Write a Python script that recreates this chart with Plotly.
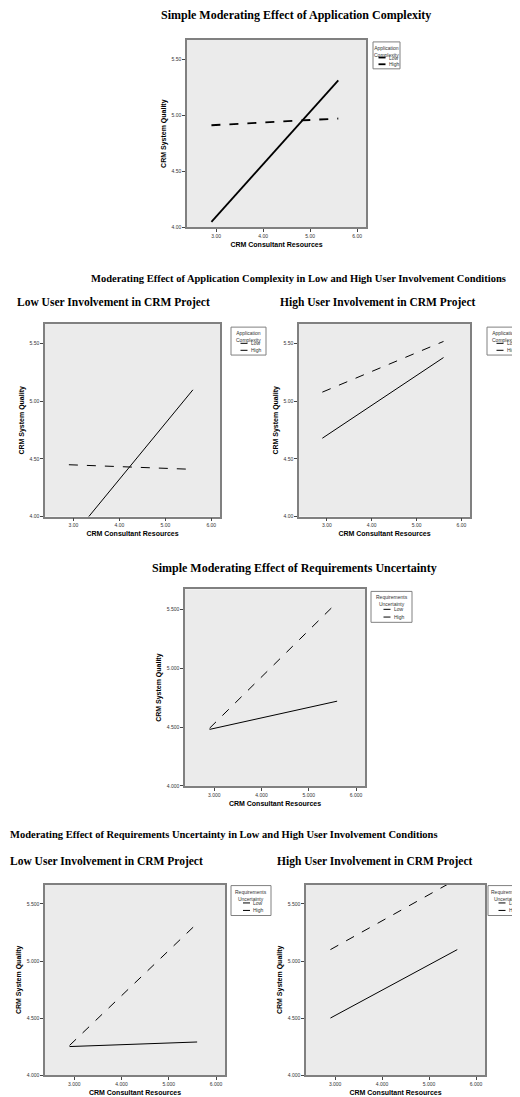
import plotly.graph_objects as go

# x endpoints (CRM Consultant Resources) shared by all panels
x_ends = [2.9, 5.6]

# Application complexity panels: Low / High
app_all_low = [4.91, 4.97]
app_all_high = [4.05, 5.31]
app_lowui_low = [4.45, 4.41]
app_lowui_high = [3.79, 5.10]
app_highui_low = [5.08, 5.52]
app_highui_high = [4.68, 5.38]

# Requirements uncertainty panels: Low / High
req_all_low = [4.49, 5.56]
req_all_high = [4.48, 4.72]
req_lowui_low = [4.26, 5.33]
req_lowui_high = [4.25, 4.29]
req_highui_low = [5.10, 5.72]
req_highui_high = [4.50, 5.10]

x_ticks = [3, 4, 5, 6]
y_ticks = [4.0, 4.5, 5.0, 5.5]

W, H = 520, 1097

fig = go.Figure()

# panel boxes in pixels: (x0, x1, y0, y1), legend box, series, width, tick format, legend title
panels = [
    ((179, 358, 32, 220), (365, 392, 34, 61), app_all_low, app_all_high, 1.8, ".2f", ["Application", "Complexity"]),
    ((37, 212, 317, 510), (223, 258, 320, 348), app_lowui_low, app_lowui_high, 1.0, ".2f", ["Application", "Complexity"]),
    ((291, 462, 317, 510), (479, 514, 320, 348), app_highui_low, app_highui_high, 1.0, ".2f", ["Application", "Complexity"]),
    ((177, 357, 583, 780), (363, 404, 585, 616), req_all_low, req_all_high, 1.0, ".3f", ["Requirements", "Uncertainty"]),
    ((37, 217, 879, 1070), (223, 263, 880, 910), req_lowui_low, req_lowui_high, 1.0, ".3f", ["Requirements", "Uncertainty"]),
    ((298, 477, 879, 1070), (480, 517, 880, 910), req_highui_low, req_highui_high, 1.0, ".3f", ["Requirements", "Uncertainty"]),
]

def px_x(v):
    return v / W

def px_y(v):
    return 1 - v / H

for i, (box, lbox, low, high, lw, fmt, ltitle) in enumerate(panels, start=1):
    sfx = "" if i == 1 else str(i)
    fig.add_trace(go.Scatter(x=x_ends, y=low, mode="lines", name="Low", showlegend=False,
                             line=dict(color="black", width=lw, dash="dash"),
                             xaxis="x" + sfx, yaxis="y" + sfx))
    fig.add_trace(go.Scatter(x=x_ends, y=high, mode="lines", name="High", showlegend=False,
                             line=dict(color="black", width=lw),
                             xaxis="x" + sfx, yaxis="y" + sfx))
    x0, x1, y0, y1 = box
    axis_common = dict(showline=True, linecolor="#808080", linewidth=1.5, mirror=True,
                       ticks="outside", ticklen=3, tickcolor="#444", showgrid=False,
                       zeroline=False, tickfont=dict(size=5, family="Arial", color="#333"))
    fig.update_layout(**{
        "xaxis" + sfx: dict(domain=[x0 / W, x1 / W], range=[2.38, 6.19], tickvals=x_ticks,
                            tickformat=fmt, anchor="y" + sfx,
                            title=dict(text="<b>CRM Consultant Resources</b>", standoff=4,
                                       font=dict(size=7, family="Arial", color="black")),
                            **axis_common),
        "yaxis" + sfx: dict(domain=[1 - y1 / H, 1 - y0 / H], range=[4.0, 5.67], tickvals=y_ticks,
                            tickformat=fmt, anchor="x" + sfx,
                            title=dict(text="<b>CRM System Quality</b>", standoff=4,
                                       font=dict(size=7, family="Arial", color="black")),
                            **axis_common),
    })

    # hand-drawn SPSS-style legend box
    lx0, lx1, ly0, ly1 = lbox
    fig.add_shape(type="rect", xref="paper", yref="paper",
                  x0=px_x(lx0), x1=px_x(lx1), y0=px_y(ly1), y1=px_y(ly0),
                  line=dict(color="#808080", width=1), fillcolor="white")
    cx = (lx0 + lx1) / 2
    fig.add_annotation(text=ltitle[0] + "<br>" + ltitle[1], x=px_x(cx), y=px_y(ly0 + 1),
                       xref="paper", yref="paper", xanchor="center", yanchor="top",
                       showarrow=False, font=dict(size=5, family="Arial", color="#333"))
    row_h = (ly1 - ly0)
    for j, (lab, dash) in enumerate([("Low", "dash"), ("High", "solid")]):
        ry = ly0 + row_h * (0.58 + 0.25 * j)
        fig.add_shape(type="line", xref="paper", yref="paper",
                      x0=px_x(cx - 8), x1=px_x(cx - 1), y0=px_y(ry), y1=px_y(ry),
                      line=dict(color="black", width=lw, dash=dash))
        fig.add_annotation(text=lab, x=px_x(cx), y=px_y(ry), xref="paper", yref="paper",
                           xanchor="left", yanchor="middle", showarrow=False,
                           font=dict(size=5, family="Arial", color="#333"))

titles = [
    ("Simple Moderating Effect of Application Complexity", 288, 7, "center", 12),
    ("Moderating Effect of Application Complexity in Low and High User Involvement Conditions", 290, 271, "center", 10.5),
    ("Low User Involvement in CRM Project", 7, 295, "left", 11.5),
    ("High User Involvement in CRM Project", 270, 295, "left", 11.5),
    ("Simple Moderating Effect of Requirements Uncertainty", 286, 562, "center", 12),
    ("Moderating Effect of Requirements Uncertainty in Low and High User Involvement Conditions", 0, 829, "left", 10.5),
    ("Low User Involvement in CRM Project", 0, 856, "left", 11.5),
    ("High User Involvement in CRM Project", 267, 856, "left", 11.5),
]
for text, px, py, anc, fs in titles:
    fig.add_annotation(text="<b>" + text + "</b>", x=px_x(px), y=px_y(py), xref="paper", yref="paper",
                       xanchor=anc, yanchor="middle", showarrow=False,
                       font=dict(size=fs, family="Liberation Serif", color="black"))

fig.update_layout(width=W, height=H, margin=dict(l=0, r=0, t=0, b=0),
                  plot_bgcolor="#ebebeb", paper_bgcolor="white", showlegend=False)
fig.write_html("out.html")
